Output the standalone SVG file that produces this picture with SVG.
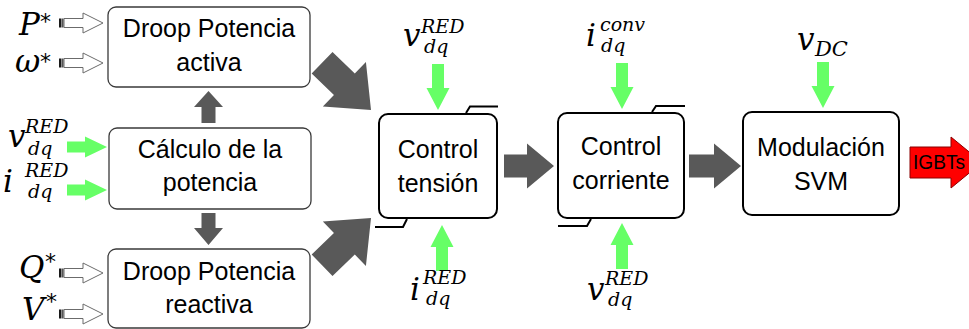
<svg xmlns="http://www.w3.org/2000/svg" xmlns:xlink="http://www.w3.org/1999/xlink" width="969" height="329" viewBox="0 0 969 329">
  <style>
    .blk { fill: #ffffff; stroke: #3a3a3a; stroke-width: 1.3; }
    .ctl { fill: #ffffff; stroke: #000000; stroke-width: 2; }
    .brk { fill: none; stroke: #000000; stroke-width: 2; }
    .lbl { font-family: "Liberation Sans", Arial, sans-serif; font-size: 25px; fill: #000000; text-anchor: middle; }
    .m   { font-family: "DejaVu Serif", "Liberation Serif", serif; font-style: italic; fill: #000000; }
    .mb  { font-size: 31px; }
    .ms  { font-size: 19px; }
    .ast { font-family: "DejaVu Sans", sans-serif; font-size: 22px; fill: #000000; }
  </style>
  <defs>
    <!-- hollow striped reference arrow, start at origin, pointing right -->
    <g id="refArrow">
      <rect x="0" y="-4.5" width="2.5" height="9" fill="#1a1a1a"/>
      <rect x="3" y="-4.5" width="1.6" height="9" fill="#555555"/>
      <path d="M5,-4.5 H24 V-10 L44,0 L24,10 V4.5 H5 Z" fill="#ffffff" stroke="#6b6b6b" stroke-width="1"/>
    </g>
    <!-- green measurement arrow, start at origin, pointing right -->
    <path id="greenRight" d="M0,-5.5 H18 V-10.5 L40,0 L18,10.5 V5.5 H0 Z" fill="#66ff66"/>
    <!-- green arrow pointing down, tip at origin -->
    <path id="greenDown" d="M-6,-46 H6 V-22 H11.5 L0,0 L-11.5,-22 H-6 Z" fill="#66ff66"/>
    <!-- green arrow pointing up, tip at origin -->
    <path id="greenUp" d="M-6,46 H6 V22 H11.5 L0,0 L-11.5,22 H-6 Z" fill="#66ff66"/>
    <!-- wide grey arrow, tip at origin, pointing along +x -->
    <path id="bigArrow" d="M-68,-15 H-37 V-31 L0,0 L-37,31 V15 H-68 Z" fill="#595959"/>
  </defs>

  <!-- connectors -->
  <g id="connectors">
    <use xlink:href="#refArrow" transform="translate(59,23)"/>
    <use xlink:href="#refArrow" transform="translate(59,63)"/>
    <use xlink:href="#refArrow" transform="translate(59,273)"/>
    <use xlink:href="#refArrow" transform="translate(59,314)"/>

    <use xlink:href="#greenRight" transform="translate(67,147)"/>
    <use xlink:href="#greenRight" transform="translate(67,190)"/>

    <!-- power calculation to droop blocks -->
    <path fill="#595959" d="M201.5,123 V107 H194 L208.5,91 L223,107 H215.5 V123 Z"/>
    <path fill="#595959" d="M201.5,213 V228 H194 L208.5,245 L223,228 H215.5 V213 Z"/>

    <!-- droop outputs into voltage control -->
    <use xlink:href="#bigArrow" transform="translate(371,110) rotate(44)"/>
    <use xlink:href="#bigArrow" transform="translate(371,218) rotate(-44)"/>

    <!-- cascade -->
    <path fill="#595959" d="M504,154.5 H527 V143.5 L554,166 L527,188.5 V177.5 H504 Z"/>
    <path fill="#595959" d="M689,154.5 H714 V143.5 L741,166 L714,188.5 V177.5 H689 Z"/>

    <use xlink:href="#greenDown" transform="translate(438,110)"/>
    <use xlink:href="#greenUp" transform="translate(442,225)"/>
    <use xlink:href="#greenDown" transform="translate(622,109)"/>
    <use xlink:href="#greenUp" transform="translate(622,223)"/>
    <use xlink:href="#greenDown" transform="translate(823,108)"/>

    <!-- gate signals -->
    <path d="M910,147 H951 V137 L982,162.5 L951,188 V178 H910 Z" fill="#ff0000" stroke="#8a0000" stroke-width="1"/>
    <text x="913" y="169" font-family="Liberation Sans, Arial, sans-serif" font-size="21" textLength="52" lengthAdjust="spacingAndGlyphs" fill="#000000">IGBTs</text>
  </g>

  <!-- input labels -->
  <g id="inputs">
    <text class="m mb" x="19" y="35">P</text>
    <text class="ast" x="40" y="29">*</text>
    <text class="m mb" x="15" y="72">ω</text>
    <text class="ast" x="40" y="69">*</text>
    <text class="m mb" x="19" y="278">Q</text>
    <text class="ast" x="45" y="269">*</text>
    <text class="m mb" x="22" y="320">V</text>
    <text class="ast" x="46" y="309">*</text>

    <text class="m mb" x="8" y="147">v</text>
    <text class="m ms" x="25" y="133">RED</text>
    <text class="m ms" x="28" y="155">dq</text>
    <text class="m mb" x="3" y="192">i</text>
    <text class="m ms" x="25" y="177">RED</text>
    <text class="m ms" x="28" y="198">dq</text>

    <text class="m mb" x="403" y="46">v</text>
    <text class="m ms" x="421" y="33">RED</text>
    <text class="m ms" x="424" y="53">dq</text>

    <text class="m mb" x="586" y="46">i</text>
    <text class="m ms" x="600" y="31">conv</text>
    <text class="m ms" x="601" y="52">dq</text>

    <text class="m mb" x="797" y="50">v</text>
    <text class="m" font-size="21" x="815" y="56">DC</text>

    <text class="m mb" x="410" y="300">i</text>
    <text class="m ms" x="423" y="284">RED</text>
    <text class="m ms" x="426" y="305">dq</text>

    <text class="m mb" x="587" y="300">v</text>
    <text class="m ms" x="605" y="285">RED</text>
    <text class="m ms" x="608" y="306">dq</text>
  </g>

  <g id="droop-p">
    <rect class="blk" x="108" y="7" width="202" height="80" rx="8"/>
    <text class="lbl" x="209" y="37">Droop Potencia</text>
    <text class="lbl" x="209" y="71">activa</text>
  </g>

  <g id="power-calc">
    <rect class="blk" x="109" y="128" width="202" height="81" rx="8"/>
    <text class="lbl" x="210" y="158">Cálculo de la</text>
    <text class="lbl" x="210" y="191">potencia</text>
  </g>

  <g id="droop-q">
    <rect class="blk" x="108" y="249" width="202" height="79" rx="8"/>
    <text class="lbl" x="209" y="280">Droop Potencia</text>
    <text class="lbl" x="209" y="313">reactiva</text>
  </g>

  <g id="voltage-ctrl">
    <rect class="ctl" x="379" y="114" width="118" height="104" rx="9"/>
    <path class="brk" d="M466,113 L470,106.5 H498"/>
    <path class="brk" d="M375,227 H403 L407,219"/>
    <text class="lbl" x="438" y="158">Control</text>
    <text class="lbl" x="438" y="192">tensión</text>
  </g>

  <g id="current-ctrl">
    <rect class="ctl" x="558" y="113" width="126" height="105" rx="9"/>
    <path class="brk" d="M652,112 L656,106 H685"/>
    <path class="brk" d="M558,226 H587 L591,219"/>
    <text class="lbl" x="621" y="155">Control</text>
    <text class="lbl" x="621" y="189">corriente</text>
  </g>

  <g id="svm">
    <rect class="ctl" x="743" y="112" width="156" height="103" rx="9"/>
    <text class="lbl" x="821" y="156">Modulación</text>
    <text class="lbl" x="821" y="190">SVM</text>
  </g>
</svg>
